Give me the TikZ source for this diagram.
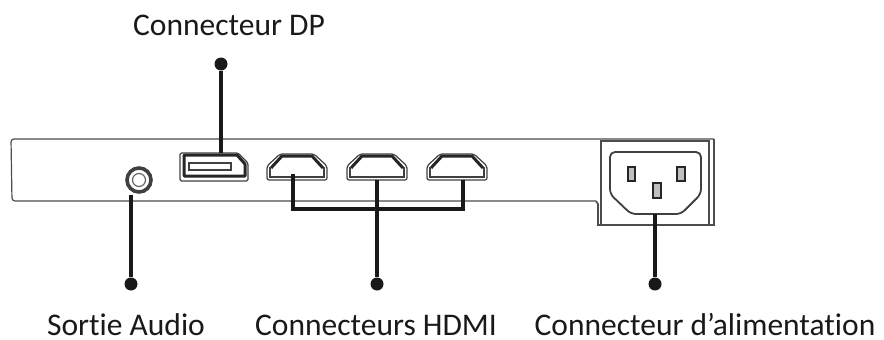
\documentclass[tikz,border=0pt]{standalone}
\usepackage{fontspec}
\setmainfont[RawFeature={-liga,-clig,-dlig}]{Carlito}
\usetikzlibrary{positioning}

\begin{document}
\begin{tikzpicture}
[x=1pt, y=-1pt,
label/.style={font=\fontsize{31.5}{36}\selectfont, inner sep=0pt, text=black!90, anchor=base},
dot/.style={circle, fill=black!90, inner sep=0pt, minimum size=13pt},
leader/.style={line width=3.6pt, black!90},
panel/.style={line width=1.2pt, black!70},
port/.style={line width=1.2pt, black!75},
heavy/.style={line width=3pt, black!85, line join=round},
pin/.style={line width=1.2pt, black!85, fill=black!25},
hdmi/.pic={
\draw[port, rounded corners=2pt] (-30,12) -- (-17,0) -- (17,0) -- (30,12) -- (30,26) -- (-30,26) -- cycle;
\draw[heavy] (-26,14) -- (-15,2) -- (15,2) -- (26,14);
\draw[port] (-27,13) -- (-27,23) -- (27,23) -- (27,13);
},
]
\useasboundingbox (0,0) rectangle (884,340);

% back panel
\draw[panel, rounded corners=3pt] (596,201) -- (12,201) -- (11,139) -- (714,139);
\draw[panel, line width=1.6pt] (596,201) -- (598,204) -- (598,225) -- (714,225) -- (714,139);
\draw[panel, line width=1.6pt] (601,141) rectangle (709,225);

% power inlet
\draw[port, line width=1.8pt, rounded corners=5pt] (610,152) -- (701,152) -- (701,194) -- (681,214) -- (631,214) -- (610,194) -- cycle;
\draw[pin] (628,167) rectangle (635,181);
\draw[pin] (677,167) rectangle (685,181);
\draw[pin] (653,183) rectangle (661,198);

% audio jack
\node (jack) [circle, draw=black!75, line width=3.6pt, minimum size=24pt, inner sep=0pt] at (139,180) {};
\node [circle, draw=black!60, line width=1.2pt, minimum size=13pt, inner sep=0pt] at (139,180) {};

% dp port
\draw[port, rounded corners=1.5pt] (180,153) -- (238,153) -- (248,163) -- (248,181) -- (180,181) -- cycle;
\draw[heavy] (184,155) -- (237,155) -- (245,164) -- (245,176) -- (184,176) -- cycle;
\draw[port, fill=white] (189,163) -- (231,163) -- (231,170) -- (189,170) -- cycle;

% hdmi ports
\foreach \x in {297,377,457}
    \pic at (\x,154) {hdmi};

% leaders
\coordinate (dptop) at (221,153);
\coordinate (jackend) at (131,195);
\coordinate (hdmia) at (293,174);
\coordinate (hdmib) at (377,180);
\coordinate (hdmic) at (463,180);
\coordinate (hdmibus) at (377,209);
\coordinate (inlet) at (655,214);

\node (dpdot) [dot] at (221,64) {};
\node (audiodot) [dot] at (131,284) {};
\node (hdmidot) [dot] at (377,284) {};
\node (powerdot) [dot] at (655,284) {};

\draw[leader] (dpdot) -- (dptop);
\draw[leader] (audiodot) -- (jackend);
\draw[leader] (hdmidot) -- (hdmib);
\draw[leader] (powerdot) -- (inlet);
\draw[leader, line join=miter] (hdmia) |- (hdmibus) -| (hdmic);

% labels
\node (dplabel) [label] at (229,35) {Connecteur DP};
\node (audiolabel) [label] at (126,335) {Sortie Audio};
\node (hdmilabel) [label] at (376,335) {Connecteurs HDMI};
\node (powerlabel) [label] at (705,335) {Connecteur d’alimentation};

\end{tikzpicture}
\end{document}
